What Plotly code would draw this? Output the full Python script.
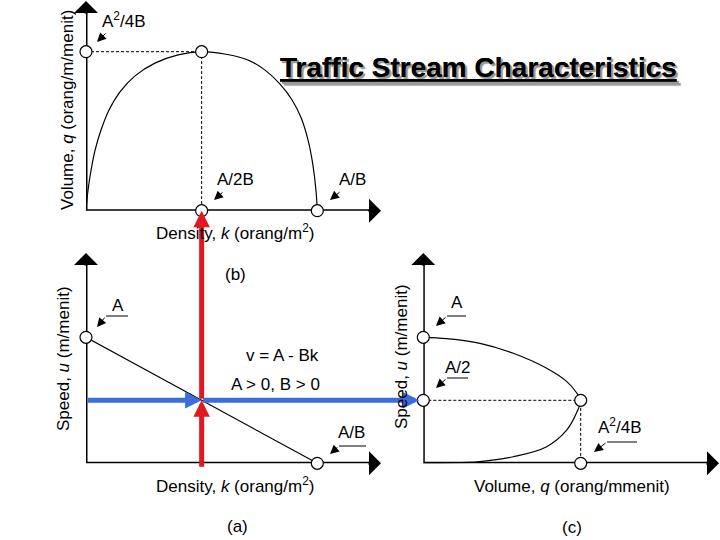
import plotly.graph_objects as go

W, H = 720, 540

# ---------------- data (units: A = 1, B = 1) ----------------
# (b) volume q vs density k
b_k = [0, 0.009, 0.022, 0.039, 0.065, 0.099, 0.147, 0.212, 0.298, 0.398, 0.5,
       0.605, 0.700, 0.774, 0.839, 0.891, 0.930, 0.960, 0.981, 0.994, 1.0]
b_q = [0, 0.033, 0.064, 0.095, 0.127, 0.158, 0.187, 0.212, 0.232, 0.245, 0.25,
       0.246, 0.237, 0.221, 0.199, 0.174, 0.146, 0.111, 0.072, 0.033, 0]
b_pt_k = [0, 0.5, 0.5, 1.0]
b_pt_q = [0.25, 0.25, 0, 0]

# (a) speed u vs density k
a_k = [0, 1.0]
a_u = [1.0, 0]
a_pt_k = [0, 1.0]
a_pt_u = [1.0, 0]

# (c) speed u vs volume q
c_q = [0, 0.037, 0.090, 0.143, 0.196, 0.228, 0.2425, 0.25,
       0.244, 0.228, 0.196, 0.143, 0.090, 0.037, 0]
c_u = [1.0, 0.989, 0.952, 0.873, 0.754, 0.648, 0.566, 0.5,
       0.407, 0.265, 0.132, 0.052, 0.013, 0.002, 0]
c_pt_q = [0, 0, 0.25, 0.25]
c_pt_u = [1.0, 0.5, 0.5, 0]

k_crit = 0.5   # A/2B
u_crit = 0.5   # A/2
q_max = 0.25   # A^2/4B

# ---------------- geometry ----------------
FONT = "Liberation Sans, Arial, sans-serif"
RED = "#E2171F"
BLUE = "#3B6EDC"

P = {
    "b": dict(ax="", x0=86, y0=210.7, sx=231.3, sy=636, xt=381, yt=1),
    "a": dict(ax="2", x0=86, y0=463.3, sx=231.3, sy=126, xt=381, yt=253),
    "c": dict(ax="3", x0=423.3, y0=463.3, sx=629.6, sy=126, xt=719, yt=253),
}


def px(p, x, y):
    g = P[p]
    return g["x0"] + x * g["sx"], g["y0"] - y * g["sy"]


def paper(x, y):
    return x / W, 1 - y / H


fig = go.Figure()
layout = dict(width=W, height=H, margin=dict(l=0, r=0, t=0, b=0),
              paper_bgcolor="white", plot_bgcolor="rgba(0,0,0,0)",
              showlegend=False)
ann = []

for name, g in P.items():
    xr = (g["xt"] - g["x0"]) / g["sx"]
    yr = (g["y0"] - g["yt"]) / g["sy"]
    axis_common = dict(showgrid=False, zeroline=False, showticklabels=False,
                       ticks="", showline=False, fixedrange=True)
    layout["xaxis" + g["ax"]] = dict(domain=[g["x0"] / W, g["xt"] / W],
                                     range=[0, xr], anchor="y" + g["ax"], **axis_common)
    layout["yaxis" + g["ax"]] = dict(domain=[1 - g["y0"] / H, 1 - g["yt"] / H],
                                     range=[0, yr], anchor="x" + g["ax"], **axis_common)
    xa, ya = "x" + g["ax"], "y" + g["ax"]
    xend = (g["xt"] - 8 - g["x0"]) / g["sx"]
    yend = (g["y0"] - g["yt"] - 8) / g["sy"]
    fig.add_trace(go.Scatter(x=[xend, 0, 0], y=[0, 0, yend], mode="lines",
                             line=dict(color="black", width=3), xaxis=xa, yaxis=ya,
                             cliponaxis=False, hoverinfo="skip"))
    # arrow heads of axes
    ann.append(dict(x=xr, y=0, xref=xa, yref=ya, ax=-14, ay=0, text="",
                    showarrow=True, arrowhead=1, arrowwidth=3, arrowsize=1.33,
                    arrowcolor="black"))
    ann.append(dict(x=0, y=yr, xref=xa, yref=ya, ax=0, ay=14, text="",
                    showarrow=True, arrowhead=1, arrowwidth=3, arrowsize=1.33,
                    arrowcolor="black"))

dash = dict(color="black", width=1, dash="3px,2px")
# panel b
fig.add_trace(go.Scatter(x=[0, k_crit, k_crit], y=[q_max, q_max, 0], mode="lines",
                         line=dash, xaxis="x", yaxis="y", cliponaxis=False))
fig.add_trace(go.Scatter(x=b_k, y=b_q, mode="lines", line=dict(color="black", width=1.2, shape="spline"),
                         xaxis="x", yaxis="y", cliponaxis=False))
# panel a
fig.add_trace(go.Scatter(x=a_k, y=a_u, mode="lines", line=dict(color="black", width=1.2),
                         xaxis="x2", yaxis="y2", cliponaxis=False))
# panel c
fig.add_trace(go.Scatter(x=[0, q_max, q_max], y=[u_crit, u_crit, 0], mode="lines",
                         line=dash, xaxis="x3", yaxis="y3", cliponaxis=False))
fig.add_trace(go.Scatter(x=c_q, y=c_u, mode="lines", line=dict(color="black", width=1.2, shape="spline"),
                         xaxis="x3", yaxis="y3", cliponaxis=False))

circ = dict(symbol="circle", size=12, color="white", line=dict(color="black", width=1.2))
for xs, ys, xa, ya in [(b_pt_k, b_pt_q, "x", "y"), (a_pt_k, a_pt_u, "x2", "y2"),
                       (c_pt_q, c_pt_u, "x3", "y3")]:
    fig.add_trace(go.Scatter(x=xs, y=ys, mode="markers", marker=circ, xaxis=xa, yaxis=ya,
                             cliponaxis=False, hoverinfo="skip"))


# ---------------- red and blue arrows ----------------
def arrow(head, tail, color, standoff=0):
    hx, hy = head
    tx, ty = tail
    x, y = paper(hx, hy)
    ann.append(dict(x=x, y=y, xref="paper", yref="paper", ax=tx - hx, ay=ty - hy,
                    text="", showarrow=True, arrowhead=2, arrowwidth=5,
                    arrowsize=0.66, arrowcolor=color, standoff=standoff))


inter = px("a", k_crit, u_crit)
arrow(inter, px("a", k_crit, -0.04), RED)
arrow(px("b", k_crit, 0), inter, RED)
arrow(inter, px("a", 0, u_crit), BLUE)
arrow(px("c", 0, u_crit), inter, BLUE, standoff=4)


# ---------------- texts ----------------
def label(text, cx, cy, size=17, angle=0, **kw):
    x, y = paper(cx, cy)
    ann.append(dict(x=x, y=y, xref="paper", yref="paper", text=text, showarrow=False,
                    textangle=angle, xanchor="center", yanchor="middle",
                    font=dict(family=FONT, size=size, color="black"), **kw))


def small_arrow(tail, head):
    x, y = paper(*head)
    ann.append(dict(x=x, y=y, xref="paper", yref="paper", ax=tail[0] - head[0],
                    ay=tail[1] - head[1], text="", showarrow=True, arrowhead=2,
                    arrowwidth=1, arrowsize=1.8, arrowcolor="black"))


def leader(x1, x2, yv):
    fig.add_shape(type="line", xref="paper", yref="paper", x0=x1 / W, x1=x2 / W,
                  y0=1 - yv / H, y1=1 - yv / H, line=dict(color="black", width=1))


label("Volume, <i>q</i> (orang/m/menit)", 67, 110, angle=-90)
label("A<sup>2</sup>/4B", 124, 20)
small_arrow((107, 32), (97, 42))
label("A/2B", 235, 180)
small_arrow((224, 191), (214, 200))
label("A/B", 352, 180)
small_arrow((341, 191), (330, 200))
label("Density, <i>k</i> (orang/m<sup>2</sup>)", 235, 232)
label("(b)", 235, 274)

x, y = paper(478, 67)
ann.append(dict(x=x, y=y, xref="paper", yref="paper", showarrow=False,
                text="<b>Traffic Stream Characteristics</b>", xanchor="center", yanchor="middle",
                font=dict(family=FONT, size=28, color="black", lineposition="under",
                          shadow="2px 2px 1px #9a9a9a")))

label("Speed, <i>u</i> (m/menit)", 63, 358, angle=-90)
label("A", 118, 305)
leader(106, 128, 316)
small_arrow((106, 316), (97, 327))
label("v = A - Bk", 282, 355)
label("A &gt; 0, B &gt; 0", 275, 384)
label("A/B", 351, 432)
leader(339, 366, 446)
small_arrow((339, 446), (330, 454))
label("Density, <i>k</i> (orang/m<sup>2</sup>)", 235, 485)
label("(a)", 237, 526)

label("Speed, <i>u</i> (m/menit)", 401, 357, angle=-90)
label("A", 457, 302)
leader(447, 466, 316)
small_arrow((447, 316), (436, 326))
label("A/2", 458, 367)
leader(447, 468, 378)
small_arrow((447, 378), (436, 388))
label("A<sup>2</sup>/4B", 620, 426)
leader(607, 637, 442)
small_arrow((607, 442), (594, 452))
label("Volume, <i>q</i> (orang/mmenit)", 572, 486)
label("(c)", 572, 527)

layout["annotations"] = ann
fig.update_layout(**layout)
fig.write_html("out.html", config={"displayModeBar": False},
               post_script="document.body.style.margin='0';document.body.style.overflow='hidden';")
